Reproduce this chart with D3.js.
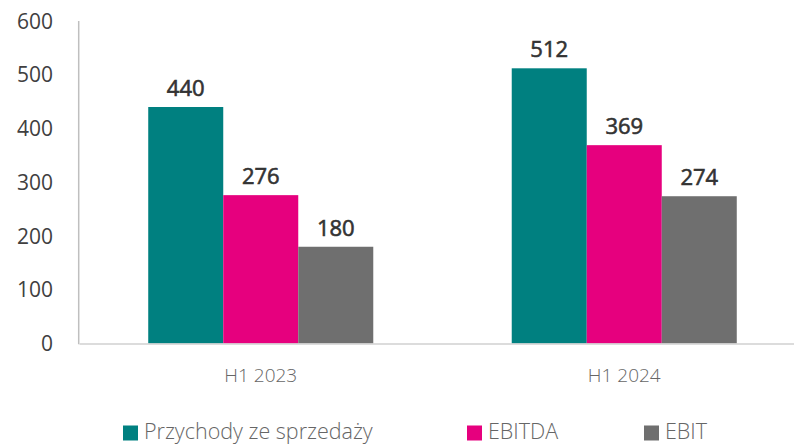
<!DOCTYPE html>
<html><head><meta charset="utf-8">
<script src="https://cdn.jsdelivr.net/npm/d3@7"></script>
<style>body{margin:0;background:#fff}svg{display:block}</style>
</head><body><svg id="c" width="794" height="445"></svg>
<script>
const categories = ["H1 2023", "H1 2024"];
const seriesNames = ["Przychody ze sprzedaży", "EBITDA", "EBIT"];
const revenue = [440, 512];
const ebitda = [276, 369];
const ebit = [180, 274];
const yTicks = [0, 100, 200, 300, 400, 500, 600];
const colors = ["#008080", "#E6007E", "#6F6F6F"];

const values = [revenue, ebitda, ebit];
const svg = d3.select("#c");
const font = "'Open Sans', 'Noto Sans', sans-serif";
const x0 = d3.scaleBand().domain(categories).range([79, 806]).paddingInner(0).paddingOuter(0);
const x1 = d3.scaleBand().domain(seriesNames).range([0, x0.bandwidth()]).paddingInner(0).paddingOuter(0.923);
const y = d3.scaleLinear().domain([0, 600]).range([343.5, 21]);

// y tick labels
const ya = svg.append("g").attr("transform", "translate(79,0)")
  .call(d3.axisLeft(y).tickValues(yTicks).tickSize(0).tickPadding(26));
ya.select(".domain").remove();
ya.selectAll("text").attr("font-family", font).attr("font-size", 21).attr("fill", "#404040").attr("dy", "0.34em");

// bars
categories.forEach((c, ci) => {
  seriesNames.forEach((s, si) => {
    const v = values[si][ci];
    svg.append("rect")
      .attr("x", x0(c) + x1(s)).attr("y", y(v))
      .attr("width", x1.bandwidth()).attr("height", y(0) - y(v))
      .attr("fill", colors[si]);
    svg.append("text")
      .attr("x", x0(c) + x1(s) + x1.bandwidth() / 2).attr("y", y(v) - 11)
      .attr("text-anchor", "middle").attr("font-family", font).attr("font-size", 22)
      .attr("fill", "#333").attr("stroke", "#333").attr("stroke-width", 0.6).text(v);
  });
});

// axes lines
svg.append("line").attr("x1", 78.7).attr("x2", 78.7).attr("y1", 21).attr("y2", 344.3)
  .attr("stroke", "#BFBFBF").attr("stroke-width", 1.5);
const xa = svg.append("g").attr("transform", "translate(0,343.5)")
  .call(d3.axisBottom(x0).tickSize(0).tickPadding(25));
xa.select(".domain").attr("stroke", "#D0D0D0").attr("stroke-width", 1.5);
xa.selectAll("text").attr("font-family", font).attr("font-size", 19).attr("fill", "#666").attr("font-weight", 300);

// legend
const legendX = [123, 467, 644];
seriesNames.forEach((s, i) => {
  svg.append("rect").attr("x", legendX[i]).attr("y", 425.5).attr("width", 15).attr("height", 15).attr("fill", colors[i]);
  svg.append("text").attr("x", legendX[i] + 21).attr("y", 439).attr("font-family", font)
    .attr("font-size", 21.5).attr("font-weight", 300).attr("fill", "#666").text(s);
});
</script></body></html>
